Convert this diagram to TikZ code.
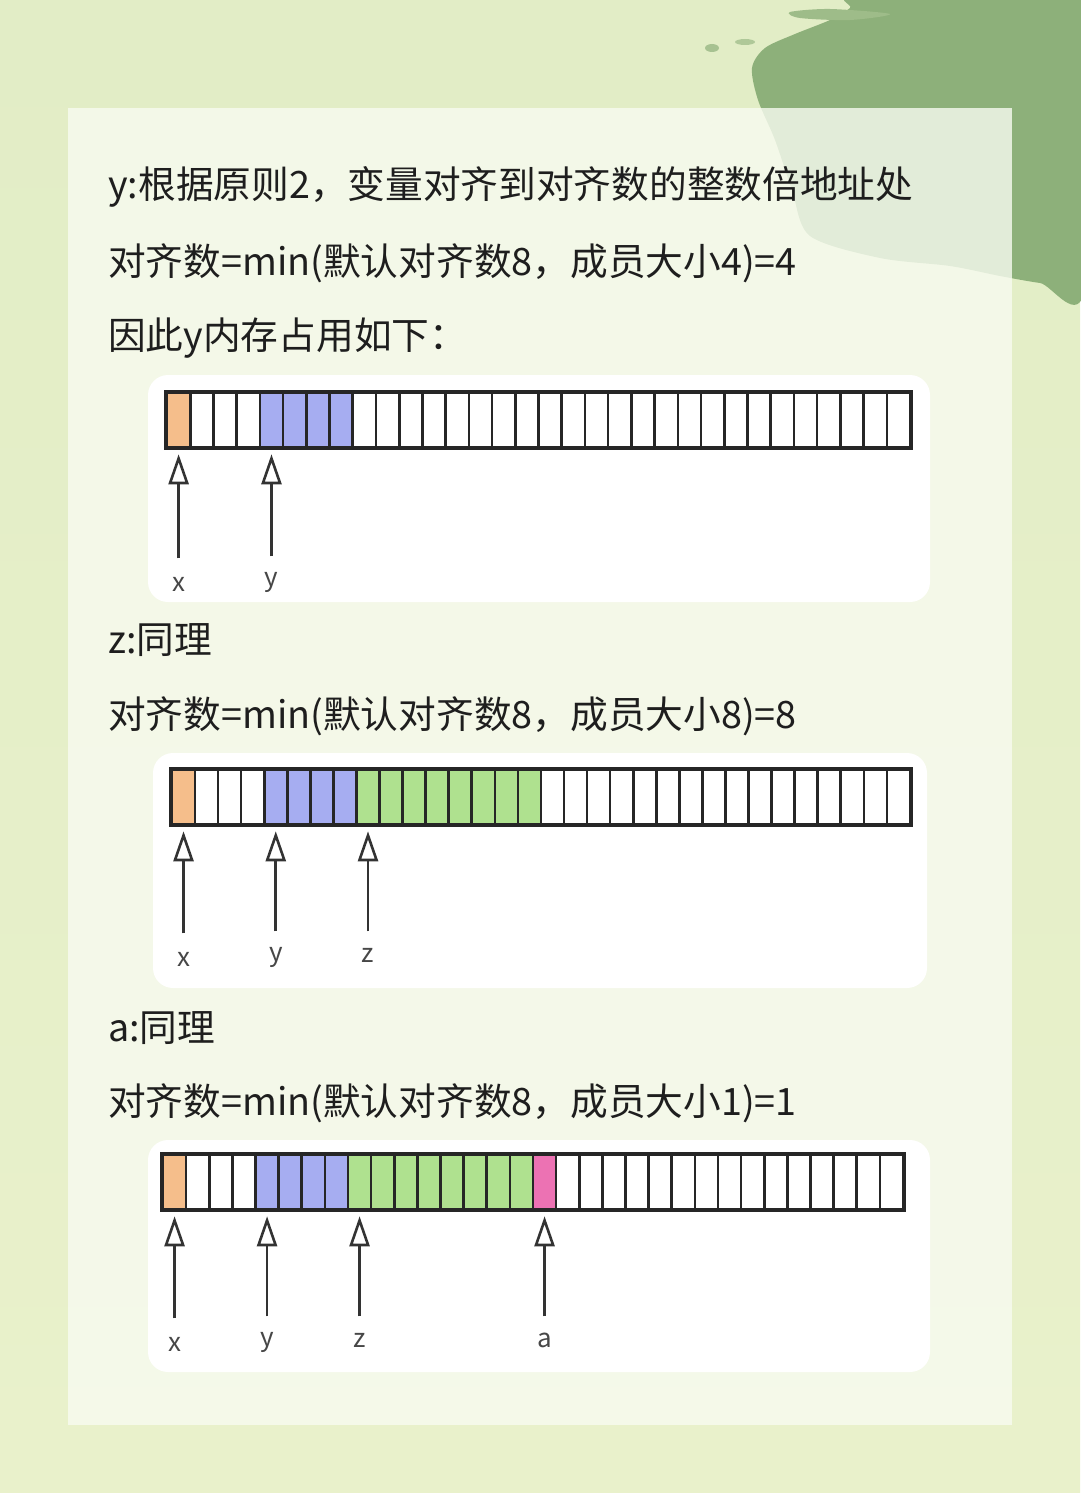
\documentclass[tikz,border=0pt]{standalone}
\usepackage{fontspec}
\setmainfont{Noto Sans CJK SC}
\usetikzlibrary{arrows.meta,calc}
\definecolor{bgtop}{HTML}{E2EDC6}
\definecolor{bgbot}{HTML}{E9F1CB}
\definecolor{brushgreen}{HTML}{8DB07A}
\definecolor{panelcol}{HTML}{F8FBF1}
\definecolor{txt}{HTML}{1E1E1E}
\definecolor{co}{HTML}{F5BE8B}
\definecolor{cb}{HTML}{A6ADF1}
\definecolor{cg}{HTML}{AFE18F}
\definecolor{cp}{HTML}{EC72B3}
\definecolor{cw}{HTML}{FFFFFF}
\definecolor{edge}{HTML}{262626}
\definecolor{arr}{HTML}{333333}
\tikzset{
  line/.style={font=\fontsize{37.7}{42}\selectfont, text=txt, anchor=west, inner sep=0pt},
  card/.style={fill=white, rounded corners=20pt, draw=none},
  cellbox/.style={draw=edge, line width=2.6pt, minimum height=54pt, inner sep=0pt},
  ptr/.style={draw=arr, line width=2.6pt, -{Triangle[open, length=30pt, width=20pt]}, shorten >=6pt},
  lab/.style={font=\fontsize{26}{29}\selectfont, text=arr!90, inner sep=0pt}
}
\begin{document}
\begin{tikzpicture}[x=1pt,y=-1pt]
\useasboundingbox (0,0) rectangle (1080,1493);
% background
\shade[top color=bgtop, bottom color=bgbot] (0,0) rectangle (1080,1493);
\fill[brushgreen] plot[smooth cycle, tension=0.5] coordinates {(860,-5) (1085,-5) (1085,288) (1040,283) (1000,276) (950,266) (880,258) (810,236) (792,190) (775,140) (758,100) (752,68) (765,48) (795,34) (830,20) (850,8)};
\fill[brushgreen!80!bgtop] plot[smooth cycle, tension=0.5] coordinates {(790,12) (830,9) (890,14) (850,20) (800,18)};
\fill[brushgreen!70!bgtop] (712,48) ellipse (7 and 4);
\fill[brushgreen!60!bgtop] (745,42) ellipse (10 and 3);
% panel
\fill[panelcol, opacity=0.8] (68,108) rectangle (1012,1425);
% cards
\fill[card] (148,375) rectangle (930,602);
\fill[card] (153,753) rectangle (927,988);
\fill[card] (148,1140) rectangle (930,1372);
% texts
\node[line] (t1) at (108,187) {y:根据原则2，变量对齐到对齐数的整数倍地址处};
\node[line] (t2) at (108,263) {对齐数=min(默认对齐数8，成员大小4)=4};
\node[line] (t3) at (108,338) {因此y内存占用如下：};
\node[line] (t4) at (108,640) {z:同理};
\node[line] (t5) at (108,716) {对齐数=min(默认对齐数8，成员大小8)=8};
\node[line] (t6) at (108,1028) {a:同理};
\node[line] (t7) at (108,1103) {对齐数=min(默认对齐数8，成员大小1)=1};
% strip 1
\foreach \i in {0,...,31}{
  \def\col{cw}
  \ifnum\i=0 \def\col{co}\fi
  \ifnum\i>3 \ifnum\i<8 \def\col{cb}\fi\fi
  \node[cellbox, fill=\col, minimum width=23.22pt] (a\i) at (167+11.61+23.22*\i,420) {};
}
\draw[edge, line width=3pt] (a0.north west) rectangle (a31.south east);
% strip 2
\foreach \i in {0,...,31}{
  \def\col{cw}
  \ifnum\i=0 \def\col{co}\fi
  \ifnum\i>3 \ifnum\i<8 \def\col{cb}\fi\fi
  \ifnum\i>7 \ifnum\i<16 \def\col{cg}\fi\fi
  \node[cellbox, fill=\col, minimum width=23.06pt] (b\i) at (172+11.53+23.06*\i,797) {};
}
\draw[edge, line width=3pt] (b0.north west) rectangle (b31.south east);
% strip 3
\foreach \i in {0,...,31}{
  \def\col{cw}
  \ifnum\i=0 \def\col{co}\fi
  \ifnum\i>3 \ifnum\i<8 \def\col{cb}\fi\fi
  \ifnum\i>7 \ifnum\i<16 \def\col{cg}\fi\fi
  \ifnum\i=16 \def\col{cp}\fi
  \node[cellbox, fill=\col, minimum width=23.125pt] (c\i) at (163+11.56+23.125*\i,1182) {};
}
\draw[edge, line width=3pt] (c0.north west) rectangle (c31.south east);
% pointers strip 1
\path (a0.south) ++(0,110) coordinate (pa0);
\path (a4.south) ++(0,108) coordinate (pa4);
\draw[ptr] (pa0) -- (a0.south);
\draw[ptr] (pa4) -- (a4.south);
\node[lab] (la0) at ($(pa0)+(0,26)$) {x};
\node[lab] (la4) at ($(pa4)+(0,26)$) {y};
% pointers strip 2
\path (b0.south) ++(0,108) coordinate (pb0);
\path (b4.south) ++(0,106) coordinate (pb4);
\path (b8.south) ++(0,106) coordinate (pb8);
\draw[ptr] (pb0) -- (b0.south);
\draw[ptr] (pb4) -- (b4.south);
\draw[ptr] (pb8) -- (b8.south);
\node[lab] (lb0) at ($(pb0)+(0,26)$) {x};
\node[lab] (lb4) at ($(pb4)+(0,26)$) {y};
\node[lab] (lb8) at ($(pb8)+(0,24)$) {z};
% pointers strip 3
\path (c0.south) ++(0,108) coordinate (pc0);
\path (c4.south) ++(0,106) coordinate (pc4);
\path (c8.south) ++(0,106) coordinate (pc8);
\path (c16.south) ++(0,106) coordinate (pc16);
\draw[ptr] (pc0) -- (c0.south);
\draw[ptr] (pc4) -- (c4.south);
\draw[ptr] (pc8) -- (c8.south);
\draw[ptr] (pc16) -- (c16.south);
\node[lab] (lc0) at ($(pc0)+(0,26)$) {x};
\node[lab] (lc4) at ($(pc4)+(0,26)$) {y};
\node[lab] (lc8) at ($(pc8)+(0,24)$) {z};
\node[lab] (lc16) at ($(pc16)+(0,24)$) {a};
\end{tikzpicture}
\end{document}
